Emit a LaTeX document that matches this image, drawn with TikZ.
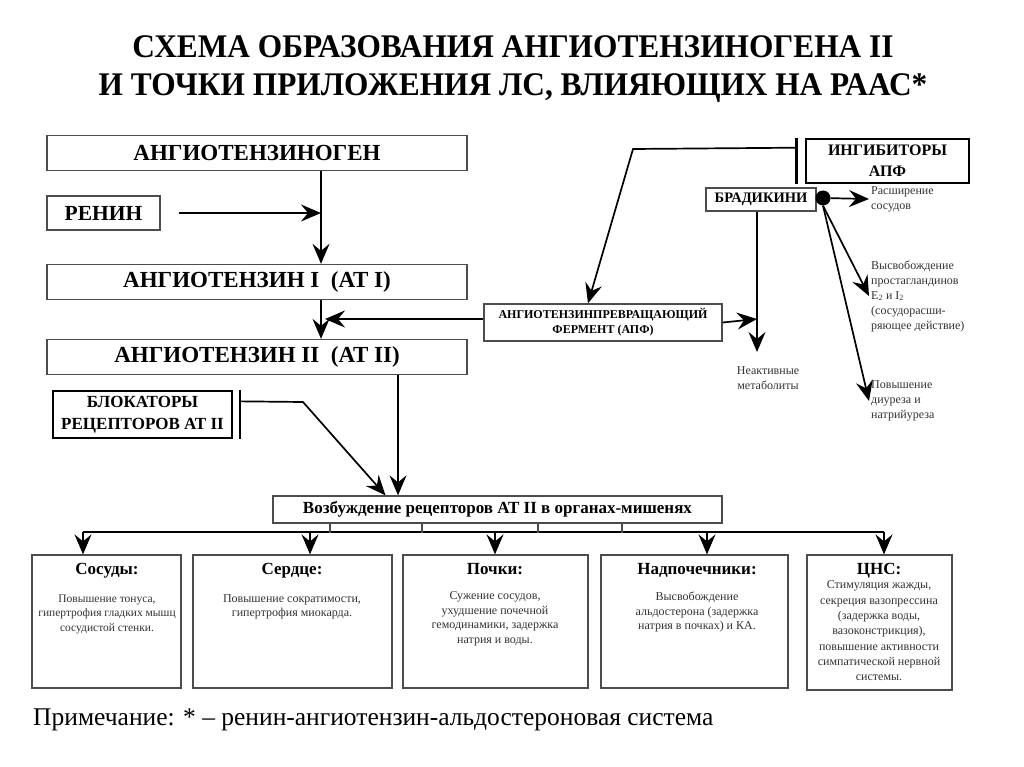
\documentclass[tikz,border=0pt]{standalone}
\usepackage{fontspec}
\setmainfont{Liberation Serif}
\newfontfamily\cond[FakeStretch=0.95]{Liberation Serif}
\usetikzlibrary{arrows.meta}
\newcommand\myfs[2]{\fontsize{#1}{#2}\selectfont}
\definecolor{txt}{gray}{0.2}
\definecolor{bord}{gray}{0.3}
\tikzset{
  box/.style={draw=bord, line width=1.3pt, inner sep=0pt, align=center},
  bigbox/.style={box, minimum width=420pt, minimum height=35pt, font=\bfseries\myfs{23}{26}},
  organ/.style={draw=bord, line width=1.2pt, inner sep=0pt},
  otitle/.style={font=\bfseries\myfs{17}{20}, anchor=base},
  obody/.style={font=\myfs{12}{14.5}, text=txt, align=center},
  side/.style={font=\myfs{12}{15}, text=txt, align=left, inner sep=2pt},
  conn/.style={line width=1.7pt},
  arr/.style={conn, -{Stealth[length=20pt,width=17pt,inset=7pt]}},
  teebar/.style={line width=2.6pt},
}
\begin{document}
\begin{tikzpicture}[x=1pt,y=-1pt]
\useasboundingbox[fill=white] (0,0) rectangle (1024,767);

% title
\node (title) at (513,69) [font=\cond\bfseries\myfs{33}{38}, align=center]
  {СХЕМА ОБРАЗОВАНИЯ АНГИОТЕНЗИНОГЕНА II\\И ТОЧКИ ПРИЛОЖЕНИЯ ЛС, ВЛИЯЮЩИХ НА РААС*};

% main chain
\node[bigbox] (agen) at (257,153) {АНГИОТЕНЗИНОГЕН};
\node[box, minimum width=113pt, minimum height=34pt, font=\bfseries\myfs{21.5}{24}] (renin) at (103.5,213) {РЕНИН};
\node[bigbox] (at1) at (257,282) {АНГИОТЕНЗИН I\ \ (АТ I)};
\node[bigbox] (at2) at (257,357) {АНГИОТЕНЗИН II\ \ (АТ II)};

\coordinate (j1) at (321,213);
\draw[conn] (agen.south -| j1) -- (j1);
\draw[arr] (j1) -- (at1.north -| j1);
\draw[arr] ([xshift=18pt]renin.east) -- (j1);
\draw[arr] (at1.south -| j1) -- (at2.north -| j1);

% ACE
\node[box, minimum width=238pt, minimum height=37pt, font=\bfseries\myfs{12}{15}] (ace) at (603,322.5)
  {АНГИОТЕНЗИНПРЕВРАЩАЮЩИЙ\\ФЕРМЕНТ (АПФ)};
\coordinate (j2) at (325,319);
\draw[arr] (ace.west |- j2) -- (j2);

% inhibitors
\node[draw=black, line width=2.6pt, minimum width=163pt, minimum height=44pt, inner sep=0pt, align=center,
      font=\bfseries\myfs{16}{21}] (inh) at (887.5,161) {ИНГИБИТОРЫ\\АПФ};
\draw[teebar] ([xshift=-8pt]inh.north west) -- ([xshift=-8pt]inh.south west);
\coordinate (bend1) at (633,149);
\draw[arr] ([xshift=-8pt,yshift=-10pt]inh.north west) -- (bend1) -- ([xshift=-15pt]ace.north);

% bradykinin
\node[box, minimum width=110pt, minimum height=23pt, font=\bfseries\myfs{14.5}{16}] (brad) at (761,199.5) {БРАДИКИНИ};
\node[circle, fill=black, minimum size=15pt, inner sep=0pt] (dot) at (823,198) {};
\node[side, anchor=west] (vaso) at (869,199) {Расширение\\сосудов};
\node[side, anchor=west] (prost) at (869,296) {Высвобождение\\простагландинов\\E\textsubscript{2} и I\textsubscript{2}\\(сосудорасши-\\ряющее действие)};
\node[side, anchor=west] (diur) at (869,401) {Повышение\\диуреза и\\натрийуреза};
\node[side, align=center] (metab) at (768,378) {Неактивные\\метаболиты};
\draw[arr] (dot) -- (vaso.west);
\draw[arr] (dot.south) -- (prost.west);
\draw[arr] (dot.south) -- (diur.west);

\coordinate (j3) at (757,319);
\coordinate (mend) at (757,352);
\draw[conn] (brad.south -| j3) -- (j3);
\draw[arr] (j3) -- (mend);
\draw[arr] (ace.east) -- (j3);

% excitation
\node[box, minimum width=449pt, minimum height=27pt, font=\bfseries\myfs{17}{19}] (exc) at (497.5,509.5)
  {Возбуждение рецепторов АТ II в органах-мишенях};
\draw[arr] ([xshift=141pt]at2.south) -- ([xshift=141pt]at2.south |- exc.north);

% blockers
\node[draw=black, line width=2.3pt, minimum width=179pt, minimum height=47pt, inner sep=0pt, align=center,
      font=\bfseries\myfs{17}{22}] (blk) at (142.5,414.5) {БЛОКАТОРЫ\\РЕЦЕПТОРОВ АТ II};
\draw[teebar] ([xshift=7pt]blk.north east) -- ([xshift=7pt]blk.south east);
\coordinate (bend2) at (303,402);
\draw[arr] ([xshift=7pt,yshift=-11.5pt]blk.north east) -- (bend2) -- ([xshift=-112pt]exc.north);

% bus
\coordinate (busL) at (83,532);
\coordinate (t2) at (310,532);
\coordinate (t3) at (495,532);
\coordinate (t4) at (707,532);
\coordinate (busR) at (884,532);
\draw[conn] (busL) -- (busR);
\foreach \dx in {-167.5,-75.5,40.5,124.5}
  \draw[line width=1.3pt, bord] ([xshift=\dx pt]exc.south) -- ++(0,9);

% organ boxes
\node[organ, minimum width=149pt, minimum height=133pt] (b1) at (106.5,621.5) {};
\node[organ, minimum width=199pt, minimum height=133pt] (b2) at (292.5,621.5) {};
\node[organ, minimum width=185pt, minimum height=133pt] (b3) at (495.5,621.5) {};
\node[organ, minimum width=187pt, minimum height=133pt] (b4) at (694.5,621.5) {};
\node[organ, minimum width=145pt, minimum height=135pt] (b5) at (879.5,622.5) {};

\draw[arr] (busL) -- (busL |- b1.north);
\draw[arr] (t2) -- (t2 |- b2.north);
\draw[arr] (t3) -- (t3 |- b3.north);
\draw[arr] (t4) -- (t4 |- b4.north);
\draw[arr] (busR) -- (busR |- b5.north);

\node[otitle] (b1t) at (107,574) {Сосуды:};
\node[otitle] (b2t) at (292,574) {Сердце:};
\node[otitle] (b3t) at (495,574) {Почки:};
\node[otitle] (b4t) at (697,574) {Надпочечники:};
\node[otitle] (b5t) at (879,574) {ЦНС:};

\node[obody, font=\myfs{11.5}{14.5}] (b1b) at (107,614) {Повышение тонуса,\\гипертрофия гладких мышц\\сосудистой стенки.};
\node[obody] (b2b) at (292,607) {Повышение сократимости,\\гипертрофия миокарда.};
\node[obody] (b3b) at (495,619) {Сужение сосудов,\\ухудшение почечной\\гемодинамики, задержка\\натрия и воды.};
\node[obody] (b4b) at (697,612) {Высвобождение\\альдостерона (задержка\\натрия в почках) и КА.};
\node[obody, font=\myfs{12}{15.3}] (b5b) at (879,631) {Стимуляция жажды,\\секреция вазопрессина\\(задержка воды,\\вазоконстрикция),\\повышение активности\\симпатической нервной\\системы.};

% note
\node[font=\myfs{25.5}{28}, anchor=west, inner sep=0pt] (note) at (33,720)
  {Примечание: * – ренин-ангиотензин-альдостероновая система};
\end{tikzpicture}
\end{document}
